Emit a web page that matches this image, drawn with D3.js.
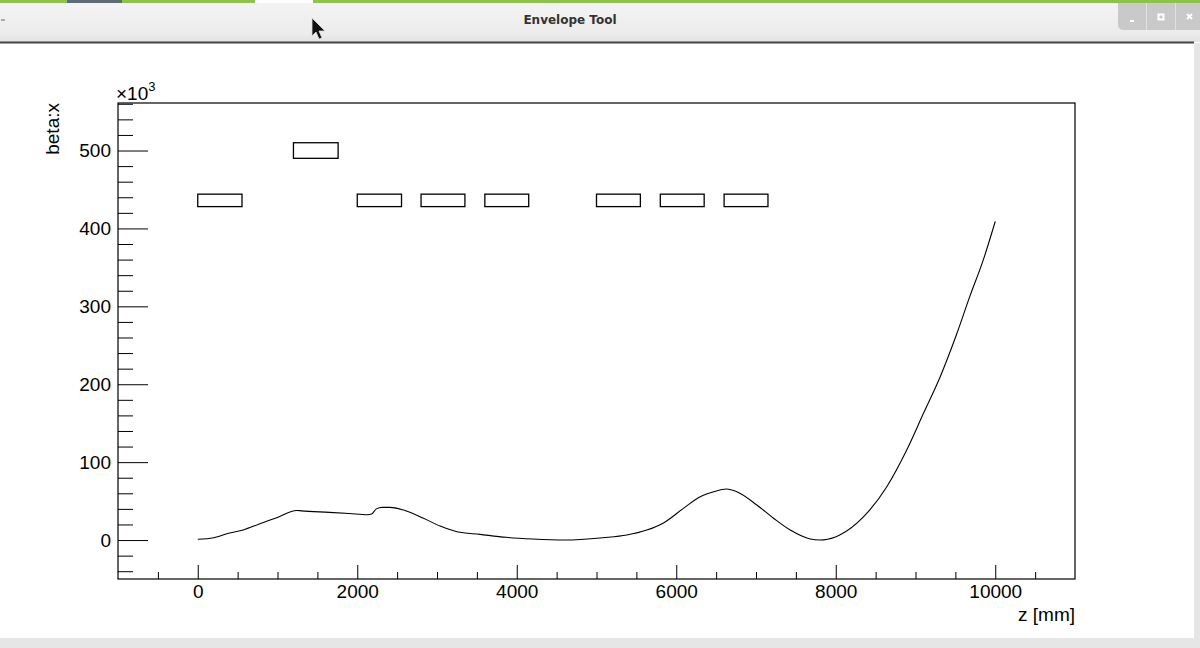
<!DOCTYPE html>
<html>
<head>
<meta charset="utf-8">
<script src="https://cdn.jsdelivr.net/npm/d3@7"></script>
<style>
  html, body { margin: 0; padding: 0; background: #fff; }
  svg { display: block; }
</style>
</head>
<body>
<svg id="chart" width="1200" height="648"></svg>
<script>
// beta:x envelope along z (values in units of 10^3)
const zValues = [0, 200, 400, 570, 780, 1000, 1240, 1300, 1650, 1900, 2130, 2180, 2240, 2310, 2410,
  2580, 2830, 3040, 3250, 3540, 3870, 4200, 4600, 5080, 5380, 5630, 5840, 6090, 6300, 6470, 6630,
  6760, 7010, 7220, 7430, 7680, 7800, 7850, 8050, 8350, 8640, 8890, 9100, 9310, 9520, 9680, 9850, 10000];
const betaValues = [1, 3, 9, 13, 21, 29, 38, 37.5, 35.5, 34, 32.5, 33.5, 40, 42, 42,
  38.5, 28, 18, 10.7, 7.3, 3.5, 1.3, 0, 3, 6.4, 12.8, 22, 40.7, 55.6, 62, 65.5,
  62, 45, 28, 12.8, 1.3, 0, 0.2, 6.4, 30, 68.5, 115.6, 162.7, 209.7, 265.4, 312.4, 359.6, 409];

// beamline elements drawn as boxes
const elemStart = [0, 1200, 2000, 2800, 3600, 5000, 5800, 6600];
const elemEnd   = [555, 1760, 2555, 3350, 4150, 5550, 6350, 7150];
const elemLow   = [428, 490, 428, 428, 428, 428, 428, 428];
const elemHigh  = [444, 510, 444, 444, 444, 444, 444, 444];

const xMajor = [0, 2000, 4000, 6000, 8000, 10000];
const yMajor = [0, 100, 200, 300, 400, 500];

const svg = d3.select("#chart");
const font = "'Liberation Sans', Arial, Helvetica, sans-serif";
const fs = 19;

// ---- window chrome ----
const grad = svg.append("defs").append("linearGradient")
    .attr("id", "tb").attr("x1", 0).attr("x2", 0).attr("y1", 0).attr("y2", 1);
grad.append("stop").attr("offset", "0%").attr("stop-color", "#f4f4f4");
grad.append("stop").attr("offset", "80%").attr("stop-color", "#ececec");
grad.append("stop").attr("offset", "100%").attr("stop-color", "#e2e2e2");

svg.append("rect").attr("x", 0).attr("y", 0).attr("width", 1200).attr("height", 42).attr("fill", "url(#tb)");
svg.append("rect").attr("x", 0).attr("y", 0).attr("width", 1200).attr("height", 3).attr("fill", "#8cc348");
svg.append("rect").attr("x", 67).attr("y", 0).attr("width", 55).attr("height", 3).attr("fill", "#5d6b74");
svg.append("rect").attr("x", 255).attr("y", 0).attr("width", 58).attr("height", 3).attr("fill", "#ffffff");
svg.append("rect").attr("x", 0).attr("y", 41.5).attr("width", 1194).attr("height", 2).attr("fill", "#444");
svg.append("rect").attr("x", 1).attr("y", 19).attr("width", 4).attr("height", 2).attr("fill", "#aaa");
svg.append("rect").attr("x", 1194).attr("y", 43).attr("width", 6).attr("height", 605).attr("fill", "#e6e6e6");
svg.append("rect").attr("x", 0).attr("y", 638).attr("width", 1200).attr("height", 10).attr("fill", "#e6e6e6");

svg.append("text")
    .attr("x", 570).attr("y", 24)
    .attr("text-anchor", "middle")
    .attr("font-family", "'DejaVu Sans', sans-serif")
    .attr("font-weight", "bold").attr("font-size", 12)
    .attr("fill", "#333")
    .text("Envelope Tool");

// window buttons
svg.append("path")
    .attr("d", "M1118,3 H1200 V30 H1124 Q1118,30 1118,24 Z")
    .attr("fill", "#c9c9c9");
svg.append("rect").attr("x", 1146).attr("y", 3).attr("width", 1).attr("height", 27).attr("fill", "#e2e2e2");
svg.append("rect").attr("x", 1175).attr("y", 3).attr("width", 1).attr("height", 27).attr("fill", "#e2e2e2");
svg.append("rect").attr("x", 1130).attr("y", 20).attr("width", 4).attr("height", 2).attr("fill", "#fff");
svg.append("rect").attr("x", 1158.5).attr("y", 14.5).attr("width", 5).attr("height", 5)
    .attr("fill", "none").attr("stroke", "#fff").attr("stroke-width", 2);
svg.append("path").attr("d", "M1187,14 L1192,19 M1192,14 L1187,19")
    .attr("stroke", "#fff").attr("stroke-width", 2);

// mouse pointer
svg.append("path")
    .attr("d", "M312,18 L312,36 L316,32 L319,39 L322,38 L319,31 L325,31 Z")
    .attr("fill", "#111").attr("stroke", "#ddd").attr("stroke-width", 0.8);

// ---- plot ----
const frameL = 118, frameR = 1075, frameT = 103, frameB = 579;

const x = d3.scaleLinear().domain([-1000, 11000]).range([frameL, frameR]);
const y = d3.scaleLinear().domain([-50, 561]).range([frameB, frameT]);

const xMinor = d3.range(-500, 11000, 500).filter(v => v % 2000 !== 0);
const yMinor = d3.range(-40, 561, 20).filter(v => v % 100 !== 0);

function styleAxis(g) {
  g.select(".domain").remove();
  g.selectAll("line").attr("stroke", "#000").attr("stroke-width", 1);
  g.selectAll("text").attr("font-family", font).attr("font-size", fs).attr("fill", "#000");
}

svg.append("g")
    .attr("transform", `translate(0,${frameB})`)
    .call(d3.axisBottom(x).tickValues(xMinor).tickSize(-7).tickSizeOuter(0).tickFormat(""))
    .call(styleAxis);
svg.append("g")
    .attr("transform", `translate(0,${frameB})`)
    .call(d3.axisBottom(x).tickValues(xMajor).tickSize(-14).tickSizeOuter(0).tickPadding(6).tickFormat(d3.format("d")))
    .call(styleAxis);

svg.append("g")
    .attr("transform", `translate(${frameL},0)`)
    .call(d3.axisLeft(y).tickValues(yMinor).tickSize(-15).tickSizeOuter(0).tickFormat(""))
    .call(styleAxis);
svg.append("g")
    .attr("transform", `translate(${frameL},0)`)
    .call(d3.axisLeft(y).tickValues(yMajor).tickSize(-30).tickSizeOuter(0).tickPadding(7).tickFormat(d3.format("d")))
    .call(styleAxis);

// frame
svg.append("rect")
    .attr("x", frameL).attr("y", frameT)
    .attr("width", frameR - frameL).attr("height", frameB - frameT)
    .attr("fill", "none").attr("stroke", "#000").attr("stroke-width", 1.2);

// element boxes
svg.append("g")
  .selectAll("rect")
  .data(elemStart.map((s, i) => ({ s, e: elemEnd[i], lo: elemLow[i], hi: elemHigh[i] })))
  .join("rect")
    .attr("x", d => x(d.s))
    .attr("y", d => y(d.hi))
    .attr("width", d => x(d.e) - x(d.s))
    .attr("height", d => y(d.lo) - y(d.hi))
    .attr("fill", "none")
    .attr("stroke", "#000")
    .attr("stroke-width", 1.3);

// envelope curve
const line = d3.line()
    .x((d, i) => x(zValues[i]))
    .y(d => y(d))
    .curve(d3.curveMonotoneX);

svg.append("path")
    .attr("d", line(betaValues))
    .attr("fill", "none")
    .attr("stroke", "#000")
    .attr("stroke-width", 1.1);

// axis titles
svg.append("text")
    .attr("transform", `translate(59,${frameT}) rotate(-90)`)
    .attr("text-anchor", "end")
    .attr("font-family", font).attr("font-size", fs)
    .text("beta:x");

svg.append("text")
    .attr("x", frameR).attr("y", 621)
    .attr("text-anchor", "end")
    .attr("font-family", font).attr("font-size", fs)
    .text("z [mm]");

const exp = svg.append("text")
    .attr("x", 116).attr("y", 100)
    .attr("font-family", font).attr("font-size", fs);
exp.append("tspan").text("\u00d710");
exp.append("tspan").attr("dy", -9).attr("font-size", 13).text("3");
</script>
</body>
</html>
